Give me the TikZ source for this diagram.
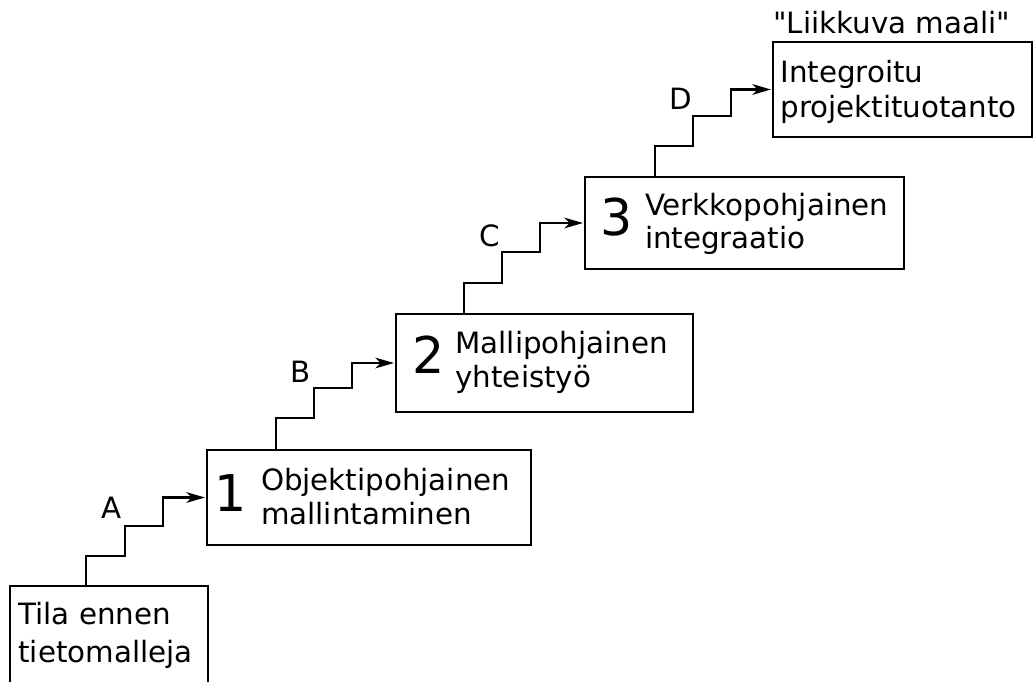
\documentclass[tikz,border=0pt]{standalone}
\usepackage{fontspec}
\setmainfont{DejaVu Sans}[Ligatures=TeXOff]
\usetikzlibrary{arrows.meta}

\tikzset{every picture/.style={line width=0.75pt}}
\tikzset{
  boxnode/.style={draw, line width=1.05pt, inner sep=0pt, outer sep=0pt, anchor=north west},
  boxtext/.style={anchor=base west, inner sep=0pt, align=left, font=\fontsize{22}{25.5}\selectfont},
  bignum/.style={anchor=base west, inner sep=0pt, font=\fontsize{38}{38}\selectfont},
  steplabel/.style={anchor=base, inner sep=0pt, font=\fontsize{22}{22}\selectfont}
}

\begin{document}
\begin{tikzpicture}[x=0.75pt,y=0.75pt,yscale=-1,xscale=1]
    \useasboundingbox (0,0) rectangle (1033,682); %set diagram size 1033 x 682
    %Shape: Rectangle
    \node [boxnode, minimum width=148.5pt, minimum height=120pt] (tila) at (10,586) {};
    %Shape: Rectangle
    \node [boxnode, minimum width=243pt, minimum height=71.25pt] (objekti) at (207,450) {};
    %Shape: Rectangle
    \node [boxnode, minimum width=222.75pt, minimum height=73.5pt] (malli) at (396,314) {};
    %Shape: Rectangle
    \node [boxnode, minimum width=239.25pt, minimum height=69pt] (verkko) at (585,177) {};
    %Shape: Rectangle
    \node [boxnode, minimum width=194.25pt, minimum height=71.25pt] (integ) at (773,42) {};
    % Text Node
    \node [boxtext, font=\fontsize{22}{28.5}\selectfont] (tilatxt) at (18,662) {Tila ennen\\tietomalleja};
    % Text Node
    \node [bignum] (num1) at (213.5,511) {1};
    \node [boxtext] (objtxt) at (260.5,524) {Objektipohjainen\\mallintaminen};
    % Text Node
    \node [bignum] (num2) at (411.5,373) {2};
    \node [boxtext] (mallitxt) at (455,387) {Mallipohjainen\\yhteistyö};
    % Text Node
    \node [bignum] (num3) at (600,235) {3};
    \node [boxtext, font=\fontsize{22}{24.75}\selectfont] (verkkotxt) at (644.5,248) {Verkkopohjainen\\integraatio};
    % Text Node
    \node [boxtext, font=\fontsize{22}{26.25}\selectfont] (integtxt) at (780,117) {Integroitu\\projektituotanto};
    % Text Node
    \node [boxtext] (maali) at (773,33) {"Liikkuva maali"};
    %Straight Lines
    \coordinate (sA) at (86,586);
    \draw [line width=2pt, shorten >=1.5pt, -{Stealth[length=14pt,width=8pt,inset=4pt]}] (sA) -- ++(0,-30) -- ++(39,0) -- ++(0,-30) -- ++(38,0) |- (objekti.west);
    \coordinate (sB) at (276,450);
    \draw [line width=2pt, shorten >=1.5pt, -{Stealth[length=14pt,width=8pt,inset=4pt]}] (sB) -- ++(0,-32) -- ++(38,0) -- ++(0,-30) -- ++(38,0) |- (malli.west);
    \coordinate (sC) at (464,314);
    \draw [line width=2pt, shorten >=1.5pt, -{Stealth[length=14pt,width=8pt,inset=4pt]}] (sC) -- ++(0,-31) -- ++(38,0) -- ++(0,-31) -- ++(38,0) |- (verkko.west);
    \coordinate (sD) at (655,177);
    \draw [line width=2pt, shorten >=1.5pt, -{Stealth[length=14pt,width=8pt,inset=4pt]}] (sD) -- ++(0,-31) -- ++(38,0) -- ++(0,-30) -- ++(38,0) |- (integ.west);
    % Text Node
    \node [steplabel] (labA) at (112,518) {A};
    \node [steplabel] (labB) at (301,382) {B};
    \node [steplabel] (labC) at (490,246) {C};
    \node [steplabel] (labD) at (681,109) {D};
\end{tikzpicture}
\end{document}
